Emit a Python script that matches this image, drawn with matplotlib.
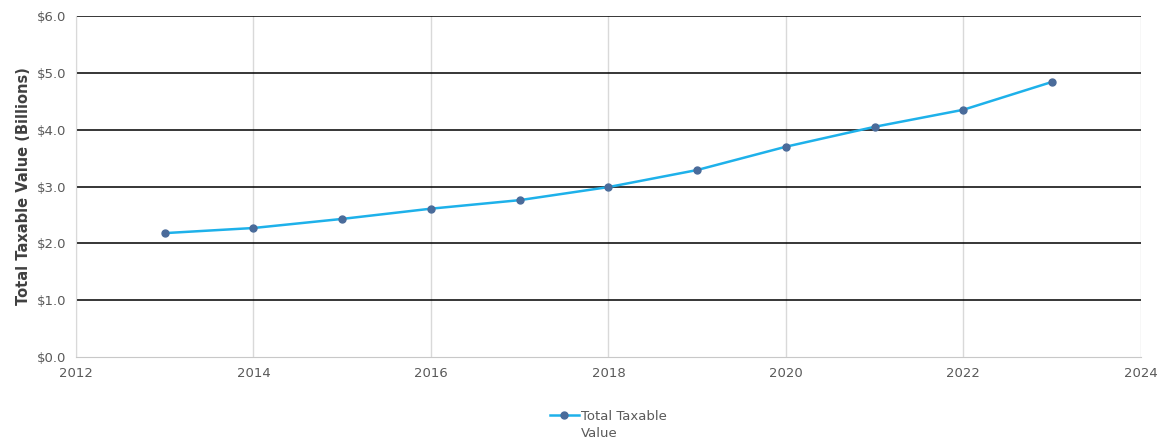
import matplotlib.pyplot as plt
import matplotlib.ticker as mticker

years = [2013, 2014, 2015, 2016, 2017, 2018, 2019, 2020, 2021, 2022, 2023]
values = [2.18, 2.27, 2.43, 2.61, 2.76, 2.99, 3.29, 3.70, 4.05, 4.35, 4.84]
xticks = [2012, 2014, 2016, 2018, 2020, 2022, 2024]
yticks = [0, 1, 2, 3, 4, 5, 6]

plt.rcParams["font.family"] = "DejaVu Sans"

fig = plt.figure(figsize=(11.6, 4.43), dpi=100)
ax = fig.add_axes([0.0655, 0.194, 0.918, 0.77])

ax.plot(years, values, "-", color="#1eb1ea", lw=1.8,
        marker="o", ms=5, mfc="#4a6b9a", mec="#4a6b9a",
        label="Total Taxable", zorder=3)

ax.set_xlim(2012, 2024)
ax.set_ylim(0, 6)
ax.set_xticks(xticks)
ax.set_yticks(yticks)
ax.yaxis.set_major_formatter(mticker.FuncFormatter(lambda v, p: "${:.1f}".format(v)))

# black horizontal lines except at zero, light vertical grid
for y in yticks[1:]:
    ax.axhline(y, color="black", lw=1.1, zorder=1)
ax.grid(axis="x", color="#d9d9d9", lw=1)
ax.set_axisbelow(True)

for s in ["top", "right"]:
    ax.spines[s].set_visible(False)
ax.spines["left"].set_color("#d9d9d9")
ax.spines["bottom"].set_color("#c8c8c8")
ax.tick_params(length=0, labelsize=9.5, colors="#595959", pad=7)

ax.set_ylabel("Total Taxable Value (Billions)", fontsize=10.5, fontweight="bold",
              color="#404040", labelpad=4)

leg = ax.legend(loc="upper center", bbox_to_anchor=(0.5, -0.12), frameon=False,
                fontsize=9.5, handlelength=2.2, handletextpad=0.2)
txt = leg.get_texts()[0]
txt.set_color("#595959")
# second line of the legend label sits under the first, handle stays on line one
ax.annotate("Value", xy=(0, 0), xycoords=txt, xytext=(0, -3),
            textcoords="offset points", va="top", ha="left",
            fontsize=9.5, color="#595959", zorder=10, annotation_clip=False)

fig.savefig("out.png", dpi=100)
